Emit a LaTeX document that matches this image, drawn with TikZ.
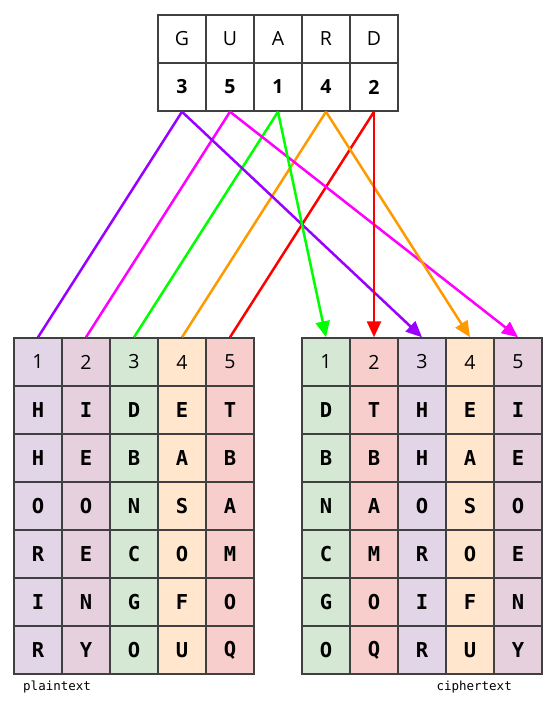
\documentclass[tikz,border=0pt]{standalone}
\usepackage{fontspec}
\setmainfont{Open Sans}
\newfontfamily\monof{DejaVu Sans Mono}
\usetikzlibrary{arrows.meta}
\definecolor{cpur}{HTML}{E1D5E7}
\definecolor{cpin}{HTML}{E6D0DE}
\definecolor{cgre}{HTML}{D5E8D4}
\definecolor{cora}{HTML}{FFE6CC}
\definecolor{cred}{HTML}{F8CECC}
\definecolor{lpur}{HTML}{9900FF}
\definecolor{lpin}{HTML}{FF00FF}
\definecolor{lgre}{HTML}{00FF00}
\definecolor{lora}{HTML}{FF9900}
\definecolor{lred}{HTML}{FF0000}
\definecolor{edge}{HTML}{404040}
\tikzset{
  cell/.style={draw=edge, line width=1.5pt, minimum width=48pt, minimum height=48pt, inner sep=0pt, anchor=center},
  keytxt/.style={cell, font=\fontsize{19.5}{19.5}\selectfont},
  keynum/.style={cell, font=\fontsize{19.5}{19.5}\selectfont\bfseries},
  headtxt/.style={cell, font=\fontsize{19.5}{19.5}\selectfont},
  lettxt/.style={cell, font=\fontsize{20.5}{20.5}\selectfont\monof\bfseries},
  conn/.style={line width=2.5pt},
  arr/.style={conn, -{Triangle[length=16pt,width=14pt]}},
  lbl/.style={font=\fontsize{12.5}{12.5}\selectfont\monof, inner sep=0pt},
}
\begin{document}
\begin{tikzpicture}[x=1pt,y=-1pt]
\useasboundingbox (0,0) rectangle (547,701);
% key
\foreach \i/\l/\n in {1/G/3,2/U/5,3/A/1,4/R/4,5/D/2}{
  \node[keytxt] (kt\i) at ({158+48*\i-24},39) {\l};
  \node[keynum] (kb\i) at ({158+48*\i-24},87) {\n};
}
% plaintext table
\foreach \i/\c in {1/cpur,2/cpin,3/cgre,4/cora,5/cred}{
  \node[headtxt, fill=\c] (ph\i) at ({14+48*\i-24},362) {\i};
}
\foreach \r/\row in {1/{H,I,D,E,T},2/{H,E,B,A,B},3/{O,O,N,S,A},4/{R,E,C,O,M},5/{I,N,G,F,O},6/{R,Y,O,U,Q}}{
  \foreach \L [count=\i] in \row {
    \ifcase\i\or\def\cc{cpur}\or\def\cc{cpin}\or\def\cc{cgre}\or\def\cc{cora}\or\def\cc{cred}\fi
    \node[lettxt, fill=\cc] (p\r\i) at ({14+48*\i-24},{362+48*\r}) {\L};
  }
}
% ciphertext table
\foreach \i/\c in {1/cgre,2/cred,3/cpur,4/cora,5/cpin}{
  \node[headtxt, fill=\c] (ch\i) at ({302+48*\i-24},362) {\i};
}
\foreach \r/\row in {1/{D,T,H,E,I},2/{B,B,H,A,E},3/{N,A,O,S,O},4/{C,M,R,O,E},5/{G,O,I,F,N},6/{O,Q,R,U,Y}}{
  \foreach \L [count=\i] in \row {
    \ifcase\i\or\def\cc{cgre}\or\def\cc{cred}\or\def\cc{cpur}\or\def\cc{cora}\or\def\cc{cpin}\fi
    \node[lettxt, fill=\cc] (c\r\i) at ({302+48*\i-24},{362+48*\r}) {\L};
  }
}
% labels
\node[lbl, anchor=west] (lp) at (23,687) {plaintext};
\node[lbl, anchor=east] (lc) at (512,687) {ciphertext};
% connectors
\draw[conn, lpur] (kb1.south) -- (ph1.north);
\draw[conn, lpin] (kb2.south) -- (ph2.north);
\draw[conn, lgre] (kb3.south) -- (ph3.north);
\draw[conn, lora] (kb4.south) -- (ph4.north);
\draw[conn, lred] (kb5.south) -- (ph5.north);
\draw[arr, lpur] (kb1.south) -- (ch3.north);
\draw[arr, lpin] (kb2.south) -- (ch5.north);
\draw[arr, lgre] (kb3.south) -- (ch1.north);
\draw[arr, lora] (kb4.south) -- (ch4.north);
\draw[arr, lred] (kb5.south) -- (ch2.north);
\end{tikzpicture}
\end{document}
